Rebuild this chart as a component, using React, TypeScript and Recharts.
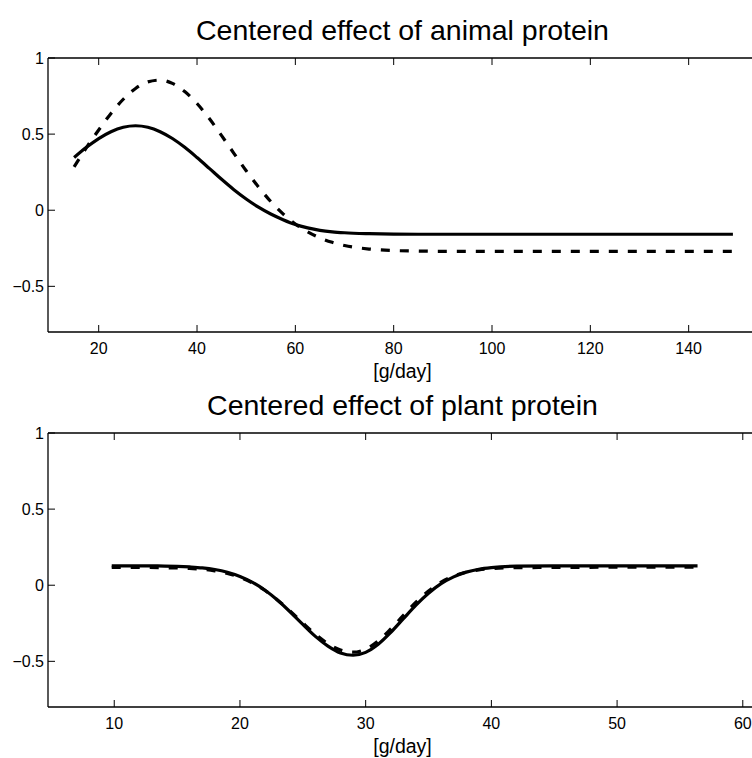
import React from 'react';
import { LineChart, Line, XAxis, YAxis } from 'recharts';

// top panel: animal protein [g/day]
const animalX = [15, 17.5, 20, 22.5, 25, 27.5, 30, 32.5, 35, 37.5, 40, 42.5, 45, 47.5, 50, 52.5, 55, 57.5, 60, 62.5, 65, 67.5, 70, 75, 80, 85, 90, 100, 110, 120, 130, 140, 149];
const animalSolid = [0.346, 0.413, 0.471, 0.516, 0.545, 0.555, 0.545, 0.516, 0.471, 0.413, 0.346, 0.275, 0.203, 0.135, 0.074, 0.02, -0.025, -0.062, -0.094, -0.116, -0.132, -0.142, -0.148, -0.154, -0.157, -0.158, -0.158, -0.158, -0.158, -0.158, -0.158, -0.158, -0.158];
const animalDashed = [0.285, 0.411, 0.527, 0.636, 0.729, 0.8, 0.843, 0.855, 0.833, 0.78, 0.701, 0.602, 0.49, 0.374, 0.259, 0.153, 0.057, -0.024, -0.09, -0.142, -0.182, -0.211, -0.232, -0.255, -0.265, -0.268, -0.27, -0.27, -0.27, -0.27, -0.27, -0.27, -0.27];
const animalTicks = [20, 40, 60, 80, 100, 120, 140];

// bottom panel: plant protein [g/day]
const plantX = [9.8, 12, 14, 16, 17, 18, 19, 20, 21, 22, 23, 24, 25, 26, 27, 28, 29, 30, 31, 32, 33, 34, 35, 36, 37, 38, 39, 40, 42, 45, 50, 56.4];
const plantSolid = [0.127, 0.127, 0.126, 0.12, 0.114, 0.103, 0.085, 0.058, 0.019, -0.033, -0.099, -0.176, -0.257, -0.336, -0.4, -0.445, -0.46, -0.441, -0.388, -0.31, -0.22, -0.131, -0.053, 0.01, 0.055, 0.086, 0.105, 0.116, 0.125, 0.127, 0.127, 0.127];
const plantDashed = [0.117, 0.117, 0.115, 0.11, 0.105, 0.094, 0.077, 0.052, 0.015, -0.035, -0.098, -0.17, -0.248, -0.322, -0.384, -0.426, -0.44, -0.42, -0.366, -0.287, -0.198, -0.112, -0.038, 0.02, 0.06, 0.086, 0.101, 0.109, 0.115, 0.117, 0.118, 0.118];
const plantTicks = [10, 20, 30, 40, 50, 60];

const yTicks = [-0.5, 0, 0.5, 1];

const FONT = '"Liberation Sans", Arial, Helvetica, sans-serif';
const tickStyle = { fontFamily: FONT, fontSize: 16, fill: '#000' };
const axisStyle = { stroke: '#000', strokeWidth: 1.3 };
const fmt = (v: number) => String(v).replace('-', '\u2212');

function Panel({ xs, solid, dashed, ticks, domain }: { xs: number[]; solid: number[]; dashed: number[]; ticks: number[]; domain: [number, number] }) {
  const data = xs.map((x, i) => ({ x, solid: solid[i], dashed: dashed[i] }));
  return (
    <LineChart width={760} height={380} data={data} margin={{ top: 57, right: 3, bottom: 0, left: 0 }}>
      <XAxis dataKey="x" type="number" domain={domain} allowDataOverflow ticks={ticks}
        tickSize={-7} tickMargin={18} axisLine={axisStyle} tickLine={{ stroke: '#000' }}
        tick={tickStyle} height={48} interval={0} />
      <XAxis xAxisId="top" orientation="top" dataKey="x" type="number" domain={domain} allowDataOverflow ticks={ticks}
        tickSize={-7} axisLine={axisStyle} tickLine={{ stroke: '#000' }} tick={() => <g />} height={1} interval={0} />
      <YAxis type="number" domain={[-0.8, 1]} allowDataOverflow ticks={yTicks} tickFormatter={fmt}
        tickSize={-7} tickMargin={11} axisLine={axisStyle} tickLine={{ stroke: '#000' }}
        tick={tickStyle} width={48} interval={0} />
      <Line dataKey="dashed" type="monotone" stroke="#000" strokeWidth={3.2} strokeDasharray="9 10" dot={false} isAnimationActive={false} />
      <Line dataKey="solid" type="monotone" stroke="#000" strokeWidth={3.2} dot={false} isAnimationActive={false} />
    </LineChart>
  );
}

export default function App() {
  return (
    <div style={{ position: 'fixed', top: 0, left: 0, width: 752, height: 758, overflow: 'hidden', background: '#fff' }}>
      <div style={{ position: 'absolute', top: 0, left: 0 }}>
        <Panel xs={animalX} solid={animalSolid} dashed={animalDashed} ticks={animalTicks} domain={[9.69, 153.9]} />
      </div>
      <div style={{ position: 'absolute', top: 375, left: 0 }}>
        <Panel xs={plantX} solid={plantSolid} dashed={plantDashed} ticks={plantTicks} domain={[4.73, 61.13]} />
      </div>
      <svg width={752} height={758} style={{ position: 'absolute', top: 0, left: 0, pointerEvents: 'none' }}>
        <g fontFamily={FONT} fill="#000" textAnchor="middle">
          <text x={402.5} y={39.5} fontSize={28.5}>Centered effect of animal protein</text>
          <text x={402.5} y={378} fontSize={19.5}>[g/day]</text>
          <text x={402.5} y={415} fontSize={28.5}>Centered effect of plant protein</text>
          <text x={402.5} y={753} fontSize={19.5}>[g/day]</text>
        </g>
      </svg>
    </div>
  );
}
